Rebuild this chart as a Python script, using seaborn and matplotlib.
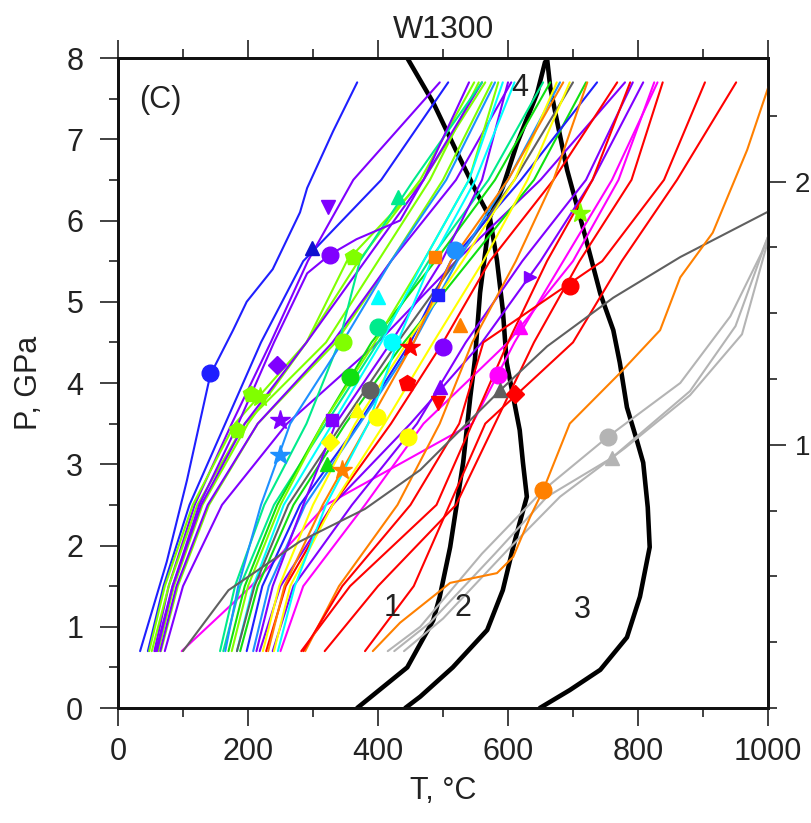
import numpy as np
import pandas as pd
import matplotlib
matplotlib.use("Agg")
import matplotlib.pyplot as plt
import seaborn as sns

# colour table (rainbow-ish, like the original)
BLUE = "#1f1fff"
PURPLE = "#8000ff"
LIME = "#80ff00"
GREEN = "#10e010"
SPRING = "#00eb8c"
CYAN = "#00ffff"
DODGER = "#1e90ff"
YELLOW = "#ffff00"
ORANGE = "#ff8000"
RED = "#ff0000"
MAGENTA = "#ff00ff"
DGREY = "#606060"
LGREY = "#b4b4b4"

# slab-top P-T paths read at common pressures (GPa) -> T (degC)
P_grid = [0.7, 1.5, 2.5, 3.5, 4.5, 5.5, 6.5, 7.7]
bundle_T = [
    [46, 70, 110, 165, 220, 285, 405, 508],
    [56, 78, 118, 175, 235, 292, 362, 495],
    [48, 72, 115, 180, 290, 370, 465, 548],
    [52, 78, 122, 195, 320, 400, 480, 555],
    [62, 86, 130, 200, 290, 352, 470, 565],
    [66, 92, 140, 215, 335, 420, 500, 575],
    [65, 90, 138, 215, 330, 420, 520, 605],
    [72, 100, 160, 260, 400, 520, 650, 780],
    [58, 84, 128, 195, 290, 380, 470, 560],
    [98, 205, 320, 545, 610, 685, 760, 830],
    [157, 180, 225, 290, 340, 372, 455, 560],
    [162, 188, 240, 320, 400, 478, 570, 654],
    [165, 185, 220, 265, 345, 420, 505, 580],
    [170, 195, 245, 315, 390, 488, 580, 665],
    [175, 200, 250, 315, 395, 470, 540, 585],
    [183, 208, 255, 330, 405, 470, 540, 592],
    [183, 210, 262, 345, 430, 520, 610, 700],
    [188, 215, 270, 350, 440, 540, 640, 720],
    [198, 222, 280, 370, 450, 512, 620, 737],
    [208, 232, 288, 372, 455, 522, 600, 680],
    [213, 238, 285, 335, 420, 498, 560, 600],
    [218, 250, 330, 450, 560, 650, 730, 808],
    [223, 248, 300, 365, 445, 530, 610, 675],
    [228, 258, 330, 420, 500, 572, 670, 768],
    [231, 256, 315, 385, 455, 512, 600, 685],
    [238, 270, 360, 460, 535, 622, 720, 792],
    [240, 265, 330, 410, 485, 562, 630, 695],
    [246, 272, 320, 385, 430, 482, 550, 610],
    [250, 285, 380, 470, 600, 700, 770, 825],
    [282, 357, 490, 545, 600, 660, 730, 788],
    [288, 340, 430, 495, 545, 612, 670, 722],
    [318, 400, 520, 580, 640, 710, 790, 838],
    [285, 345, 450, 525, 562, 745, 840, 903],
    [380, 455, 510, 565, 700, 775, 860, 951],
]
bundle_color = [
    BLUE, PURPLE, LIME, LIME, LIME, LIME, PURPLE, PURPLE, PURPLE, MAGENTA,
    SPRING, SPRING, DODGER, GREEN, LIME, CYAN, DGREY, GREEN, BLUE, DODGER,
    PURPLE, PURPLE, YELLOW, RED, ORANGE, PURPLE, YELLOW, CYAN, MAGENTA,
    RED, ORANGE, RED, RED, RED,
]

# paths with their own pressure sampling
blue1_T = [34, 75, 106, 142, 177, 198, 238, 280, 291, 331, 368]
blue1_P = [0.7, 1.8, 2.8, 4.1, 4.65, 5.0, 5.4, 6.1, 6.4, 7.1, 7.7]
purpleb_T = [60, 84, 125, 185, 240, 291, 326, 367, 434, 470, 505, 540]
purpleb_P = [0.7, 1.5, 2.5, 3.5, 4.5, 5.35, 5.58, 5.77, 6.0, 6.5, 7.1, 7.7]
dgrey_T = [100, 170, 280, 380, 465, 588, 660, 762, 865, 998, 1060]
dgrey_P = [0.7, 1.45, 2.05, 2.45, 2.93, 3.91, 4.45, 5.05, 5.55, 6.1, 6.3]
lgrey1_T = [415, 465, 560, 654, 754, 865, 942, 990, 1010]
lgrey1_P = [0.7, 1.0, 1.9, 2.68, 3.34, 4.0, 4.82, 5.6, 6.0]
lgrey2_T = [425, 480, 580, 660, 760, 880, 950, 1000, 1015]
lgrey2_P = [0.7, 1.05, 1.9, 2.6, 3.08, 3.9, 4.7, 5.8, 6.1]
lgrey3_T = [440, 500, 600, 680, 780, 880, 960, 1000, 1010]
lgrey3_P = [0.7, 1.1, 1.95, 2.6, 3.2, 3.85, 4.6, 5.75, 6.0]
oranger_T = [392, 434, 511, 583, 608, 634, 654, 695, 772, 834, 865, 915, 968, 1000, 1010]
oranger_P = [0.7, 1.05, 1.54, 1.66, 1.86, 2.35, 2.68, 3.5, 4.12, 4.65, 5.3, 5.85, 6.87, 7.63, 7.8]

# thick black reaction / solidus curves
line1_T = [368, 445, 485, 495, 511, 531, 542, 549, 557, 572, 592, 614, 645, 657]
line1_P = [0.0, 0.5, 1.08, 1.37, 1.98, 3.02, 3.83, 4.28, 5.11, 6.04, 6.41, 6.95, 7.57, 7.95]
line2_T = [445, 485, 522, 552, 572, 583, 592, 598, 608, 618, 623, 629, 618, 608, 592, 568, 515, 465, 442]
line2_P = [8.0, 7.45, 6.83, 6.34, 6.04, 5.51, 4.9, 4.25, 3.83, 3.42, 3.02, 2.6, 2.28, 1.98, 1.45, 0.96, 0.5, 0.14, 0.0]
line3_T = [649, 695, 742, 783, 803, 818, 815, 808, 798, 783, 772, 762, 742, 715, 691, 675, 665, 660]
line3_P = [0.0, 0.22, 0.47, 0.87, 1.37, 1.98, 2.47, 3.02, 3.3, 3.7, 4.25, 4.65, 5.1, 5.92, 6.62, 7.24, 7.64, 8.0]
label_text = ["1", "2", "3", "4"]
label_T = [422, 531, 715, 618]
label_P = [1.23, 1.23, 1.2, 7.63]

# symbols on the paths
mark_T = [142, 298, 323, 326, 362, 431, 488, 518, 493, 400, 400, 421, 449, 500,
          526, 695, 618, 711, 634, 218, 205, 183, 346, 245, 249, 249, 357, 388,
          445, 329, 368, 398, 326, 446, 322, 344, 495, 492, 585, 588, 611, 654,
          754, 760]
mark_P = [4.12, 5.66, 6.17, 5.58, 5.55, 6.29, 5.55, 5.64, 5.08, 5.06, 4.69, 4.5,
          4.44, 4.44, 4.71, 5.2, 4.69, 6.09, 5.3, 3.83, 3.87, 3.42, 4.5, 4.22, 3.54,
          3.11, 4.08, 3.91, 4.0, 3.54, 3.67, 3.58, 3.27, 3.33, 3.0, 2.93, 3.95, 3.75,
          4.1, 3.91, 3.87, 2.68, 3.34, 3.08]
mark_color = [BLUE, "#1010d0", PURPLE, PURPLE, LIME, SPRING, ORANGE, DODGER, BLUE,
              CYAN, SPRING, CYAN, RED, PURPLE, ORANGE, RED, MAGENTA, LIME, PURPLE,
              LIME, LIME, LIME, LIME, PURPLE, PURPLE, DODGER, GREEN, DGREY, RED,
              PURPLE, YELLOW, YELLOW, YELLOW, YELLOW, GREEN, ORANGE, PURPLE, RED,
              MAGENTA, DGREY, RED, ORANGE, LGREY, LGREY]
mark_shape = ["o", "^", "v", "o", "p", "^", "s", "o", "s", "^", "o", "o", "*", "o",
              "^", "o", "^", "*", ">", "*", "p", "p", "o", "D", "*", "*", "o", "o",
              "p", "s", "^", "o", "D", "o", "^", "*", "^", "v", "o", "^", "D", "o",
              "o", "^"]
mark_size = {"o": 12, "^": 10, "v": 10, ">": 8, "s": 9, "*": 15, "p": 12, "D": 9}


sns.set_theme(style="ticks")
plt.rcParams["font.family"] = ["Liberation Sans", "DejaVu Sans"]

fig = plt.figure(figsize=(8.12, 8.23), dpi=100)
ax = fig.add_axes([118 / 812, 1 - 708 / 823, 650 / 812, 650 / 823])

# build long table for seaborn
rows = []
palette = {}
for i, (Ts, c) in enumerate(zip(bundle_T, bundle_color)):
    name = "b%02d" % i
    palette[name] = c
    for t, p in zip(Ts, P_grid):
        rows.append((name, t, p))
extra = [("blue1", blue1_T, blue1_P, BLUE), ("purpleb", purpleb_T, purpleb_P, PURPLE),
         ("dgrey", dgrey_T, dgrey_P, DGREY), ("lgrey1", lgrey1_T, lgrey1_P, LGREY),
         ("lgrey2", lgrey2_T, lgrey2_P, LGREY), ("lgrey3", lgrey3_T, lgrey3_P, LGREY),
         ("oranger", oranger_T, oranger_P, ORANGE)]
for name, Ts, Ps, c in extra:
    palette[name] = c
    for t, p in zip(Ts, Ps):
        rows.append((name, t, p))
paths = pd.DataFrame(rows, columns=["curve", "T", "P"])

black = pd.concat([
    pd.DataFrame({"curve": "l1", "T": line1_T, "P": line1_P}),
    pd.DataFrame({"curve": "l2", "T": line2_T, "P": line2_P}),
    pd.DataFrame({"curve": "l3", "T": line3_T, "P": line3_P}),
])
sns.lineplot(data=black, x="T", y="P", units="curve", color="black", lw=3.3,
             sort=False, estimator=None, legend=False, ax=ax, zorder=2)

sns.lineplot(data=paths, x="T", y="P", hue="curve", palette=palette, lw=1.5,
             sort=False, estimator=None, legend=False, ax=ax, zorder=3)

for t, p, c, m in zip(mark_T, mark_P, mark_color, mark_shape):
    ax.plot(t, p, marker=m, color=c, mec=c, ms=mark_size[m], zorder=4, ls="none")

for s, t, p in zip(label_text, label_T, label_P):
    ax.text(t, p, s, fontsize=22, ha="center", va="center", color="#222222", zorder=5)

ax.text(65, 7.48, "(C)", fontsize=22, ha="center", va="center", color="#222222")
ax.text(0.5, 1.043, "W1300", transform=ax.transAxes, fontsize=23, ha="center",
        va="center", color="#222222")

ax.set_xlim(0, 1000)
ax.set_ylim(0, 8)
ax.set_xticks(np.arange(0, 1001, 200))
ax.set_xticks(np.arange(100, 1000, 200), minor=True)
ax.set_yticks(np.arange(0, 9, 1))
ax.set_yticks(np.arange(0.5, 8, 1), minor=True)
ax.tick_params(which="both", direction="out", top=True, right=False, width=1.3,
               color="#333333", labelsize=22, labelcolor="#222222")
ax.tick_params(which="major", length=13)
ax.tick_params(which="minor", length=6.5)
ax.tick_params(axis="y", pad=12)
ax.tick_params(axis="x", pad=8)
ax.set_xlabel("T, °C", fontsize=22, color="#222222")
ax.set_ylabel("P, GPa", fontsize=22, color="#222222")
ax.xaxis.set_label_coords(0.5, -0.105)
ax.yaxis.set_label_coords(-0.114, 0.5)
for sp in ax.spines.values():
    sp.set_linewidth(2.0)
    sp.set_color("#111111")

# depth axis on the right (100 km units)
ax2 = ax.twinx()
ax2.set_ylim(0, 8 / 3.24)
ax2.set_yticks([1, 2])
ax2.set_yticklabels(["1", "2"])
ax2.set_yticks(np.arange(0, 2.5, 0.25), minor=True)
ax2.tick_params(which="both", direction="out", width=1.3, color="#333333",
                labelsize=20, labelcolor="#222222", pad=6)
ax2.tick_params(which="major", length=13)
ax2.tick_params(which="minor", length=6.5)
for sp in ax2.spines.values():
    sp.set_linewidth(2.0)
    sp.set_color("#111111")

fig.savefig("out.png", dpi=100)
